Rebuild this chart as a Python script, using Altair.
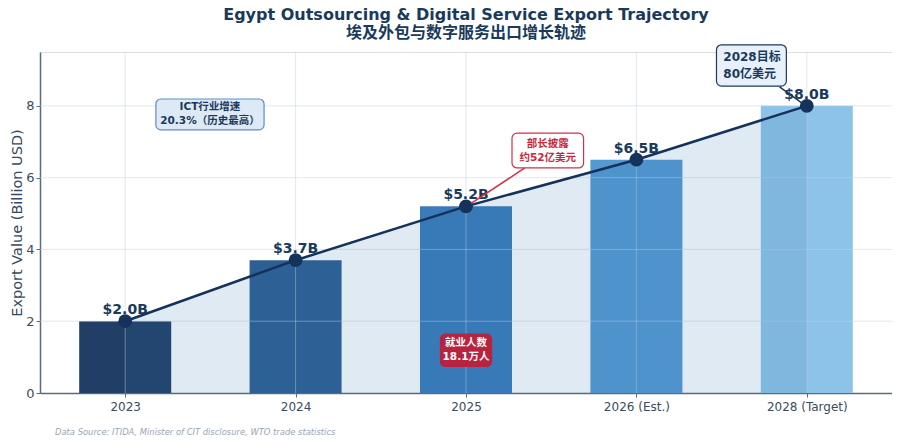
import altair as alt
import pandas as pd

# ---------------- data ----------------
categories = ["2023", "2024", "2025", "2026 (Est.)", "2028 (Target)"]
values = [2.0, 3.7, 5.2, 6.5, 8.0]
value_labels = ["$2.0B", "$3.7B", "$5.2B", "$6.5B", "$8.0B"]
bar_colors = ["#213f66", "#2d5f92", "#3a7bba", "#5599d3", "#8dc3e8"]
y_grid_values = [2, 4, 6, 8]

title_en = "Egypt Outsourcing & Digital Service Export Trajectory"
title_zh = "埃及外包与数字服务出口增长轨迹"
y_title = "Export Value (Billion USD)"
footnote = "Data Source: ITIDA, Minister of CIT disclosure, WTO trade statistics"

# annotation boxes (data coordinates: category index / billion USD)
ann_text = ["ICT行业增速\n20.3%（历史最高）", "部长披露\n约52亿美元", "2028目标\n80亿美元", "就业人数\n18.1万人"]
ann_x0 = [0.18, 2.27, 3.47, 1.85]
ann_x1 = [0.815, 2.69, 3.88, 2.15]
ann_y0 = [7.33, 6.27, 8.55, 0.74]
ann_y1 = [8.19, 7.24, 9.70, 1.64]
ann_fill = ["#dde9f5", "#ffffff", "#e8f1fa", "#b8233f"]
ann_stroke = ["#5b8fc7", "#d0304a", "#1a3a5c", "#b8233f"]
ann_tcolor = ["#1a3a5c", "#c8283c", "#1a3a5c", "#ffffff"]

# connector lines
conn_x0 = [2.345, 3.84]
conn_y0 = [6.27, 8.53]
conn_x1 = [2.03, 3.97]
conn_y1 = [5.28, 8.08]
conn_color = ["#d0304a", "#1a3a5c"]

NAVY = "#1a3a5c"
FONT = "DejaVu Sans, Noto Sans CJK SC"
W, H = 852, 341

df = pd.DataFrame({"idx": list(range(len(categories))), "cat": categories,
                   "value": values, "label": value_labels, "color": bar_colors})

label_expr = "[" + ",".join("'" + c + "'" for c in categories) + "][datum.value]"

xscale = alt.Scale(domain=[-0.5, 4.5], nice=False, zero=False, padding=0)
yscale = alt.Scale(domain=[0, 9.5], nice=False, padding=0)
xaxis = alt.Axis(values=list(range(len(categories))), labelExpr=label_expr, grid=False,
                 title=None, labelFontSize=12, labelColor="#3d4b5c", labelFont=FONT,
                 domainColor="#5a6b7d", domainWidth=1.5, tickColor="#5a6b7d", tickSize=4,
                 labelPadding=4)
yaxis = alt.Axis(values=[0, 2, 4, 6, 8], grid=False, title=y_title, titleFontSize=14.5,
                 titleFontWeight="normal", titleColor="#34495e", titleFont=FONT,
                 labelFontSize=13, labelColor="#3d4b5c", labelFont=FONT,
                 domainColor="#5a6b7d", domainWidth=1.5, tickColor="#5a6b7d", tickSize=4,
                 titlePadding=1)


def X(field):
    return alt.X(field, scale=xscale, axis=xaxis)


def Y(field):
    return alt.Y(field, scale=yscale, axis=yaxis)


base = alt.Chart(df)

bars = base.mark_bar(orient="vertical").transform_calculate(
    x0="datum.idx - 0.27", x1="datum.idx + 0.27"
).encode(x=X("x0:Q"), x2="x1:Q", y=Y("value:Q"), y2=alt.datum(0),
         color=alt.Color("color:N", scale=None))

vgrid = base.mark_rule(color="#c0d3e6", opacity=0.5, strokeWidth=1).encode(x=X("idx:Q"))
hgrid = alt.Chart(pd.DataFrame({"g": y_grid_values})).mark_rule(
    color="#c0d3e6", opacity=0.5, strokeWidth=1).encode(y=Y("g:Q"))

area = base.mark_area(color="#2c6fb0", opacity=0.15).encode(x=X("idx:Q"), y=Y("value:Q"))
line = base.mark_line(color="#14325a", strokeWidth=2.5).encode(x=X("idx:Q"), y=Y("value:Q"))
points = base.mark_point(filled=True, color="#14325a", size=190, opacity=1).encode(
    x=X("idx:Q"), y=Y("value:Q"))
vlabels = base.mark_text(font=FONT, fontSize=14, fontWeight="bold", color=NAVY,
                         baseline="alphabetic", dy=-7).encode(
    x=X("idx:Q"), y=Y("value:Q"), text="label:N")

ann = pd.DataFrame({"text": ann_text, "x0": ann_x0, "x1": ann_x1, "y0": ann_y0, "y1": ann_y1,
                    "fill": ann_fill, "stroke": ann_stroke, "tcolor": ann_tcolor})
ann["xc"] = (ann["x0"] + ann["x1"]) / 2
ann["yc"] = (ann["y0"] + ann["y1"]) / 2
ann["xl"] = ann["x0"] + 0.04

conn = pd.DataFrame({"x0": conn_x0, "y0": conn_y0, "x1": conn_x1, "y1": conn_y1, "c": conn_color})
connectors = alt.Chart(conn).mark_rule(strokeWidth=1.5).encode(
    x=X("x0:Q"), y=Y("y0:Q"), x2="x1:Q", y2="y1:Q", color=alt.Color("c:N", scale=None))

boxes = alt.Chart(ann).mark_rect(cornerRadius=5, strokeWidth=1.2).encode(
    x=X("x0:Q"), x2="x1:Q", y=Y("y0:Q"), y2="y1:Q",
    fill=alt.Fill("fill:N", scale=None), stroke=alt.Stroke("stroke:N", scale=None))

ann_center = ann.iloc[[0, 1, 3]]
ann_left = ann.iloc[[2]]
texts_c = alt.Chart(ann_center).mark_text(font=FONT, fontSize=10.5, fontWeight="bold",
                                          lineBreak="\n", baseline="middle", align="center",
                                          lineHeight=14, dy=-7).encode(
    x=X("xc:Q"), y=Y("yc:Q"), text="text:N", color=alt.Color("tcolor:N", scale=None))
texts_l = alt.Chart(ann_left).mark_text(font=FONT, fontSize=12, fontWeight="bold",
                                        lineBreak="\n", baseline="middle", align="left",
                                        lineHeight=17, dy=-8).encode(
    x=X("xl:Q"), y=Y("yc:Q"), text="text:N", color=alt.Color("tcolor:N", scale=None))

# chart titles and footnote (placed relative to the plot area)
title_df = pd.DataFrame({"t": [title_en]})
subtitle_df = pd.DataFrame({"t": [title_zh]})
title_mark = alt.Chart(title_df).mark_text(
    font=FONT, fontSize=16, fontWeight="bold", color=NAVY, align="center",
    baseline="alphabetic").encode(text="t:N", x=alt.value(W / 2), y=alt.value(-32))
subtitle_mark = alt.Chart(subtitle_df).mark_text(
    font="Noto Sans CJK SC, DejaVu Sans", fontSize=16, fontWeight="bold", color=NAVY,
    align="center", baseline="alphabetic").encode(text="t:N", x=alt.value(W / 2), y=alt.value(-14))

foot = alt.Chart(pd.DataFrame({"t": [footnote]})).mark_text(
    font="DejaVu Sans", fontSize=8.4, fontStyle="italic", color="#9aa5b1",
    align="left", baseline="middle").encode(text="t:N", x=alt.value(15), y=alt.value(380))

chart = alt.layer(
    bars, vgrid, hgrid, area, line, points, vlabels, connectors, boxes, texts_c, texts_l,
    title_mark, subtitle_mark, foot
).properties(
    width=W, height=H,
    autosize=alt.AutoSizeParams(type="none"),
    padding={"left": 32, "top": 44, "right": 0, "bottom": 47},
).configure_view(fill="#f9fbfd", stroke=None).configure(background="white")

chart.save("out.html", embed_options={"renderer": "svg", "actions": False})
